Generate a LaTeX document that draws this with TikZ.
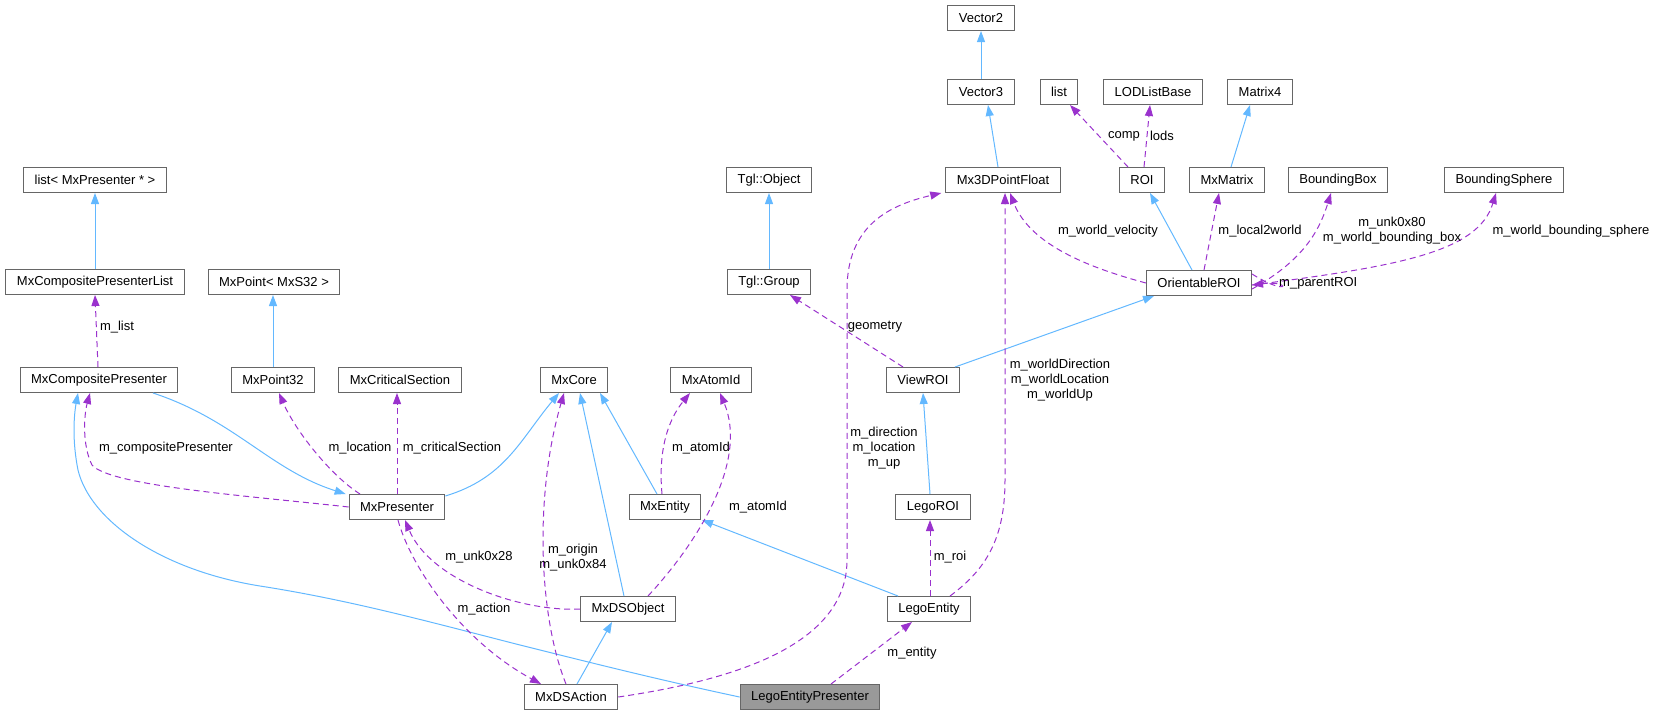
\documentclass[tikz,border=0pt]{standalone}
\usepackage{fontspec}
\setmainfont{Liberation Sans}
\usetikzlibrary{arrows.meta}
\definecolor{inhc}{HTML}{63B8FF}
\definecolor{usec}{HTML}{9A32CD}
\definecolor{bordc}{HTML}{666666}
\definecolor{grayf}{HTML}{999999}
\tikzset{
  cls/.style={draw=bordc, line width=1pt, fill=white, minimum height=25pt, inner xsep=11pt, inner ysep=0pt, font=\fontsize{13pt}{15pt}\selectfont},
  lbl/.style={inner sep=0pt, align=center, font=\fontsize{13pt}{15pt}\selectfont},
  inh/.style={draw=inhc, line width=1pt, -{Triangle[length=11pt,width=8pt,fill=inhc]}},
  use/.style={draw=usec, line width=1pt, dash pattern=on 6pt off 4pt, -{Triangle[length=11pt,width=8pt,fill=usec]}},
}
\begin{document}
\begin{tikzpicture}[x=1pt,y=-1pt]
\useasboundingbox (0,0) rectangle (1653,716);
% nodes
\node[cls] (Vector2) at (981,18) {Vector2};
\node[cls] (Vector3) at (981,92) {Vector3};
\node[cls] (list) at (1059,92) {list};
\node[cls] (LODListBase) at (1153,92) {LODListBase};
\node[cls] (Matrix4) at (1260,92) {Matrix4};
\node[cls] (listP) at (95,180) {list< MxPresenter * >};
\node[cls] (TglObject) at (769,180) {Tgl::Object};
\node[cls] (Mx3D) at (1003,180) {Mx3DPointFloat};
\node[cls] (ROI) at (1142,180) {ROI};
\node[cls] (MxMatrix) at (1227,180) {MxMatrix};
\node[cls] (BBox) at (1338,180) {BoundingBox};
\node[cls] (BSphere) at (1504,180) {BoundingSphere};
\node[cls] (MCPL) at (95,282) {MxCompositePresenterList};
\node[cls] (MxPointT) at (274,282) {MxPoint< MxS32 >};
\node[cls] (TglGroup) at (769,282) {Tgl::Group};
\node[cls] (OROI) at (1199,283) {OrientableROI};
\node[cls] (MCP) at (99,380) {MxCompositePresenter};
\node[cls] (MxPoint32) at (273,380) {MxPoint32};
\node[cls] (MxCrit) at (400,380) {MxCriticalSection};
\node[cls] (MxCore) at (574,380) {MxCore};
\node[cls] (MxAtomId) at (711,380) {MxAtomId};
\node[cls] (ViewROI) at (923,380) {ViewROI};
\node[cls] (MxPresenter) at (397,507) {MxPresenter};
\node[cls] (MxEntity) at (665,507) {MxEntity};
\node[cls] (LegoROI) at (933,507) {LegoROI};
\node[cls] (MxDSObject) at (628,609) {MxDSObject};
\node[cls] (LegoEntity) at (929,609) {LegoEntity};
\node[cls] (MxDSAction) at (571,697) {MxDSAction};
\node[cls, fill=grayf] (LEP) at (810,697) {LegoEntityPresenter};
% inheritance
\draw[inh] (Vector3) -- (Vector2);
\draw[inh] ([xshift=-5]Mx3D.north) -- ([xshift=7]Vector3.south);
\draw[inh] ([xshift=4]MxMatrix.north) -- ([xshift=-10]Matrix4.south);
\draw[inh] ([xshift=-7]OROI.north) -- ([xshift=8]ROI.south);
\draw[inh] ([xshift=-5]ViewROI.north east) -- ([xshift=-45]OROI.south);
\draw[inh] ([xshift=-3]LegoROI.north) -- (ViewROI.south);
\draw[inh] (TglGroup) -- (TglObject);
\draw[inh] (MCPL) -- (listP);
\draw[inh] (MxPoint32) -- ([xshift=-1]MxPointT.south);
\draw[inh] ([xshift=54]MCP.south) .. controls (235,420) and (270,470) .. ([xshift=-3]MxPresenter.north west);
\draw[inh] ([yshift=-2]MxPresenter.north east) .. controls (505,478) and (520,440) .. ([xshift=-15]MxCore.south);
\draw[inh] ([xshift=-4]MxDSObject.north) -- ([xshift=6]MxCore.south);
\draw[inh] ([xshift=-8]MxEntity.north) -- ([xshift=26]MxCore.south);
\draw[inh] ([xshift=-31]LegoEntity.north) -- ([xshift=37]MxEntity.south);
\draw[inh] ([xshift=6]MxDSAction.north) -- ([xshift=-16]MxDSObject.south);
\draw[inh] (LEP.west) .. controls (660,680) and (600,665) .. (520,645) .. controls (430,622) and (350,600) .. (260,586) .. controls (160,570) and (90,520) .. (78,470) .. controls (72,440) and (74,415) .. ([xshift=-21]MCP.south);
% usage
\draw[use] ([xshift=-14]ROI.north) -- ([xshift=11]list.south);
\draw[use] ([xshift=2]ROI.north) -- ([xshift=-3]LODListBase.south);
\draw[use] (OROI.west) .. controls (1090,268) and (1030,245) .. ([xshift=7]Mx3D.south);
\draw[use] ([xshift=5]OROI.north) -- ([xshift=-8]MxMatrix.south);
\draw[use] ([yshift=-6]OROI.east) .. controls (1300,262) and (1318,235) .. ([xshift=-7]BBox.south);
\draw[use] ([yshift=-2]OROI.east) .. controls (1400,266) and (1478,252) .. ([xshift=-8]BSphere.south);
\draw[use] ([yshift=9]OROI.east) .. controls (1290,298) and (1292,280) .. ([yshift=-2]OROI.east);
\draw[use] ([xshift=-20]ViewROI.north) -- ([xshift=21]TglGroup.south);
\draw[use] ([xshift=21]LegoEntity.north) .. controls (985,570) and (1005,540) .. (1005,480) -- ([xshift=2]Mx3D.south);
\draw[use] (MxDSAction.east) .. controls (720,682) and (847,650) .. (847,560) -- (847,290) .. controls (847,225) and (890,205) .. ([xshift=-4]Mx3D.south west);
\draw[use] ([xshift=-1]MCP.north) -- (MCPL.south);
\draw[use] (MxPresenter.west) .. controls (250,496) and (110,486) .. (92,465) .. controls (82,445) and (84,415) .. ([xshift=-9]MCP.south);
\draw[use] ([xshift=-37]MxPresenter.north) .. controls (330,475) and (295,430) .. ([xshift=6]MxPoint32.south);
\draw[use] (MxPresenter.north) -- (MxCrit.south -| MxPresenter.north);
\draw[use] ([xshift=-5]MxDSAction.north) .. controls (540,620) and (533,500) .. ([xshift=-10]MxCore.south);
\draw[use] ([xshift=-3]MxEntity.north) .. controls (658,450) and (668,420) .. ([xshift=-21]MxAtomId.south);
\draw[use] ([xshift=20]MxDSObject.north) .. controls (700,540) and (748,460) .. ([xshift=9]MxAtomId.south);
\draw[use] (MxDSObject.west) .. controls (520,612) and (430,580) .. ([xshift=8]MxPresenter.south);
\draw[use] ([xshift=1]MxPresenter.south) .. controls (410,565) and (460,640) .. ([xshift=-30]MxDSAction.north);
\draw[use] ([xshift=1]LegoEntity.north) -- ([xshift=-3]LegoROI.south);
\draw[use] ([xshift=21]LEP.north) -- ([xshift=-17]LegoEntity.south);
% labels
\node[lbl] (lcomp) at (1124,136) {comp};
\node[lbl] (llods) at (1162,136) {lods};
\node[lbl] (lwv) at (1108,231) {m\_world\_velocity};
\node[lbl] (ll2w) at (1260,231) {m\_local2world};
\node[lbl] (lbb) at (1392,231) {m\_unk0x80\\m\_world\_bounding\_box};
\node[lbl] (lbs) at (1571,231) {m\_world\_bounding\_sphere};
\node[lbl, anchor=west] (lpr) at (1279,283) {m\_parentROI};
\node[lbl] (lgeo) at (875,327) {geometry};
\node[lbl] (lwd) at (1060,380) {m\_worldDirection\\m\_worldLocation\\m\_worldUp};
\node[lbl] (ldir) at (884,448) {m\_direction\\m\_location\\m\_up};
\node[lbl] (llist) at (117,327) {m\_list};
\node[lbl] (lcp) at (166,448) {m\_compositePresenter};
\node[lbl] (lloc) at (360,448) {m\_location};
\node[lbl] (lcs) at (452,448) {m\_criticalSection};
\node[lbl] (la1) at (701,448) {m\_atomId};
\node[lbl] (la2) at (758,507) {m\_atomId};
\node[lbl] (lu28) at (479,557) {m\_unk0x28};
\node[lbl] (lorig) at (573,558) {m\_origin\\m\_unk0x84};
\node[lbl] (lact) at (484,609) {m\_action};
\node[lbl] (lroi) at (950,557) {m\_roi};
\node[lbl] (lent) at (912,653) {m\_entity};
\end{tikzpicture}
\end{document}
